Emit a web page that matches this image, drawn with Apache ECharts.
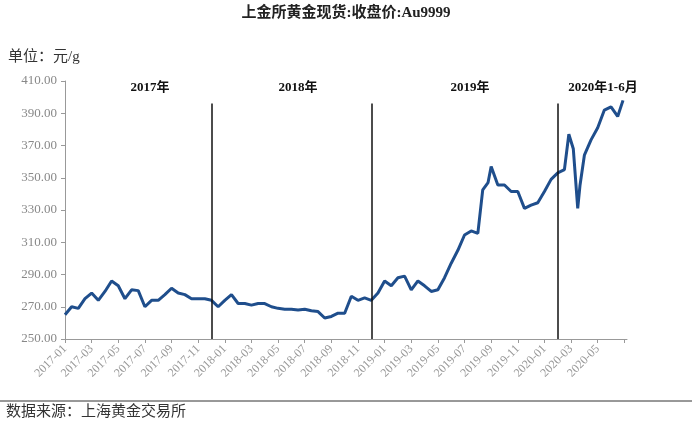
<!DOCTYPE html>
<html><head><meta charset="utf-8">
<script src="https://cdn.jsdelivr.net/npm/echarts@6/dist/echarts.min.js"></script>
<style>html,body{margin:0;padding:0;background:#fff}#chart{width:692px;height:428px}</style>
</head><body><div id="chart"></div>
<script>
var dates = ['2017-01-01','2017-01-16','2017-02-01','2017-02-16','2017-03-01','2017-03-16','2017-04-01','2017-04-16','2017-05-01','2017-05-16','2017-06-01','2017-06-16','2017-07-01','2017-07-16','2017-08-01','2017-08-16','2017-09-01','2017-09-16','2017-10-01','2017-10-16','2017-11-01','2017-11-16','2017-12-01','2017-12-16',
  '2018-01-01','2018-01-16','2018-02-01','2018-02-16','2018-03-01','2018-03-16','2018-04-01','2018-04-16','2018-05-01','2018-05-16','2018-06-01','2018-06-16','2018-07-01','2018-07-16','2018-08-01','2018-08-16','2018-09-01','2018-09-16','2018-10-01','2018-10-16','2018-11-01','2018-11-16','2018-12-01','2018-12-16',
  '2019-01-01','2019-01-16','2019-02-01','2019-02-16','2019-03-01','2019-03-16','2019-04-01','2019-04-16','2019-05-01','2019-05-16','2019-06-01','2019-06-16','2019-07-01','2019-07-16','2019-08-01','2019-08-12','2019-08-24','2019-09-01','2019-09-16','2019-10-01','2019-10-16','2019-11-01','2019-11-16','2019-12-01','2019-12-16',
  '2020-01-01','2020-01-16','2020-02-01','2020-02-16','2020-02-26','2020-03-06','2020-03-16','2020-03-21','2020-04-01','2020-04-16','2020-05-01','2020-05-16','2020-06-01','2020-06-16','2020-06-28'];
var prices = [265,270,269,275,278.5,274,279.5,286,283,275,280.5,280,270,274,274,277.5,281.5,278.5,277.5,275,275,275,274,270,
  274,277.5,272,272,271,272,272,270,269,268.5,268.5,268,268.5,267.5,267,263,264,266,266,276.5,274,275.5,274,278.5,
  286,283,288,289,280.5,286,283,279.5,280.5,288,297,305,314.5,317,315.5,342.5,347,357,345.5,345.5,341.5,341.5,331,333,334.5,
  341.5,349,353,355,377,368,331,345,364,373.5,381,392,394,388,398];
var dividers = ['2017-12-01','2018-12-01','2020-02-01'];
var periodLabels = ['2017年','2018年','2019年','2020年1-6月'];
var periodX = [150,298,470,603];

function monthIndex(s) {
  var p = s.split('-');
  return (p[0] - 2017) * 12 + (p[1] - 1) + (p[2] - 1) / 30;
}
var seriesData = [];
for (var i = 0; i < dates.length; i++) seriesData.push([monthIndex(dates[i]), prices[i]]);

var serif = '"Liberation Serif","Noto Sans CJK SC",serif';
var chart = echarts.init(document.getElementById('chart'));
var graphics = [
  {type:'text', left:'center', top:6, style:{text:'上金所黄金现货:收盘价:Au9999', font:'bold 15px ' + serif, fill:'#222'}},
  {type:'text', left:8, top:50, style:{text:'单位：元/g', font:'15px ' + serif, fill:'#333'}},
  {type:'line', shape:{x1:0, y1:401, x2:692, y2:401}, style:{stroke:'#333', lineWidth:1}},
  {type:'text', left:6, top:405, style:{text:'数据来源：上海黄金交易所', font:'15px ' + serif, fill:'#333'}}
];
for (var j = 0; j < periodLabels.length; j++) {
  graphics.push({type:'text', x:periodX[j], y:81, style:{text:periodLabels[j], font:'bold 13px ' + serif, fill:'#111', align:'center'}});
}
var marks = [];
for (var k = 0; k < dividers.length; k++) {
  marks.push([{coord:[monthIndex(dividers[k]), 250]}, {coord:[monthIndex(dividers[k]), 396]}]);
}
chart.setOption({
  animation: false,
  grid: {left:65, right:65, top:81, bottom:89},
  xAxis: {
    type:'value', min:0, max:42.2, interval:2,
    axisLine:{lineStyle:{color:'#999'}},
    axisTick:{show:true, length:4, lineStyle:{color:'#999'}},
    splitLine:{show:false},
    axisLabel:{rotate:45, color:'#999', fontFamily:serif, fontSize:12, showMaxLabel:false,
      formatter:function (v) {
        if (v > 41) return '';
        var y = 2017 + Math.floor(v / 12), m = v % 12 + 1; return y + '-' + (m < 10 ? '0' + m : m); }}
  },
  yAxis: {
    type:'value', min:250, max:410, interval:20,
    axisLine:{show:true, lineStyle:{color:'#999'}},
    axisTick:{show:true, length:4, lineStyle:{color:'#999'}},
    splitLine:{show:false},
    axisLabel:{color:'#888', fontFamily:serif, fontSize:13, formatter:function (v) { return v.toFixed(2); }}
  },
  series: [{
    type:'line', data:seriesData, symbol:'none',
    lineStyle:{color:'#1f4e8c', width:3},
    markLine:{symbol:'none', silent:true, label:{show:false}, lineStyle:{color:'#111', type:'solid', width:1.5}, data:marks}
  }],
  graphic: graphics
});
</script></body></html>
